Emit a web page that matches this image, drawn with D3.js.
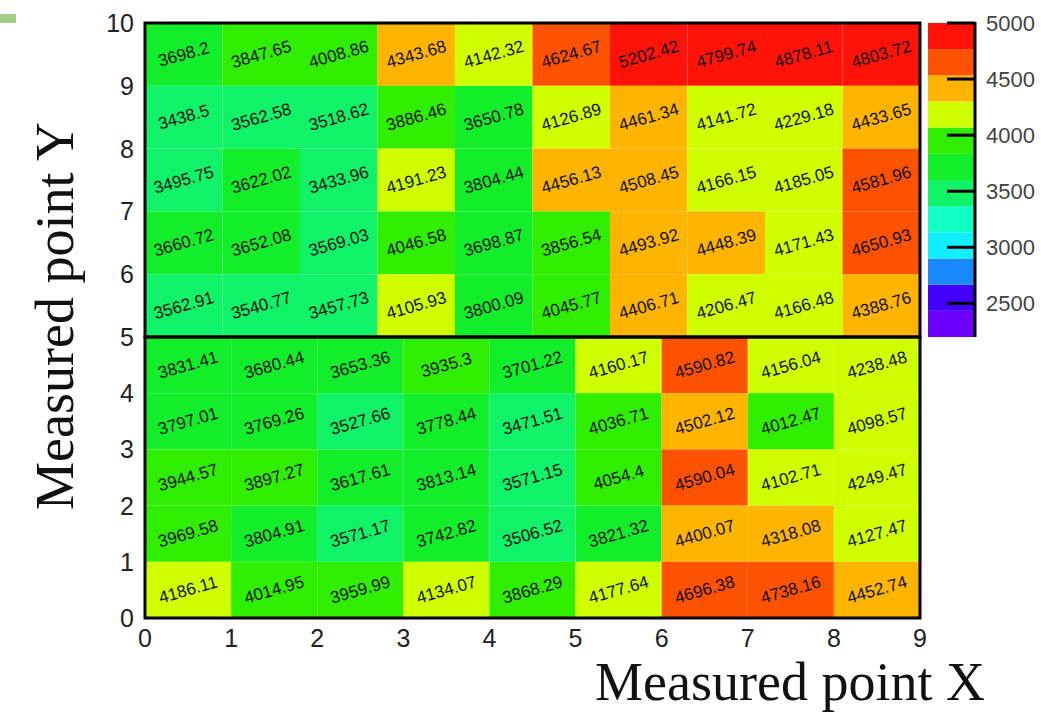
<!DOCTYPE html>
<html>
<head>
<meta charset="utf-8">
<script src="https://cdn.jsdelivr.net/npm/d3@7"></script>
<style>
  body { margin: 0; background: #fff; }
  svg { display: block; }
</style>
</head>
<body>
<div id="chart"></div>
<script>
// upper block: 10 columns, rows listed from y=9..10 down to y=5..6
var topRows = [
  [3698.2, 3847.65, 4008.86, 4343.68, 4142.32, 4624.67, 5202.42, 4799.74, 4878.11, 4803.72],
  [3438.5, 3562.58, 3518.62, 3886.46, 3650.78, 4126.89, 4461.34, 4141.72, 4229.18, 4433.65],
  [3495.75, 3622.02, 3433.96, 4191.23, 3804.44, 4456.13, 4508.45, 4166.15, 4185.05, 4581.96],
  [3660.72, 3652.08, 3569.03, 4046.58, 3698.87, 3856.54, 4493.92, 4448.39, 4171.43, 4650.93],
  [3562.91, 3540.77, 3457.73, 4105.93, 3800.09, 4045.77, 4406.71, 4206.47, 4166.48, 4388.76]
];
// lower block: 9 columns, rows listed from y=4..5 down to y=0..1
var bottomRows = [
  [3831.41, 3680.44, 3653.36, 3935.3, 3701.22, 4160.17, 4590.82, 4156.04, 4238.48],
  [3797.01, 3769.26, 3527.66, 3778.44, 3471.51, 4036.71, 4502.12, 4012.47, 4098.57],
  [3944.57, 3897.27, 3617.61, 3813.14, 3571.15, 4054.4, 4590.04, 4102.71, 4249.47],
  [3969.58, 3804.91, 3571.17, 3742.82, 3506.52, 3821.32, 4400.07, 4318.08, 4127.47],
  [4186.11, 4014.95, 3959.99, 4134.07, 3868.29, 4177.64, 4696.38, 4738.16, 4452.74]
];
var xTicks = [0, 1, 2, 3, 4, 5, 6, 7, 8, 9];
var yTopTicks = [6, 7, 8, 9, 10];
var yBottomTicks = [0, 1, 2, 3, 4, 5];
var zTicks = [2500, 3000, 3500, 4000, 4500, 5000];
var zRange = [2200, 5000];

// 12 colour levels, low to high
var palette = ["#6c00ff", "#4200ff", "#1a88ff", "#10eeff", "#10ffc4", "#10f268",
               "#12ee2a", "#30ee00", "#d0ff00", "#ffb400", "#ff5200", "#ff1208"];

var W = 1041, H = 716;
var svg = d3.select("#chart").append("svg")
    .attr("width", W)
    .attr("height", H);

// set the ranges
var x = d3.scaleLinear().domain([0, 9]).range([145, 920]);
var xTop = d3.scaleBand().domain(d3.range(10)).range([145, 920]);
var yTop = d3.scaleLinear().domain([5, 10]).range([337, 23]);
var yBot = d3.scaleLinear().domain([0, 5]).range([618, 337]);
var color = d3.scaleQuantize().domain(zRange).range(palette);
var zScale = d3.scaleLinear().domain(zRange).range([337, 23]);

// little slide decoration at top-left
svg.append("rect")
    .attr("x", 0).attr("y", 14).attr("width", 16).attr("height", 9)
    .attr("fill", "#a6cc86");

// flatten the tables into cells
var topCells = [];
topRows.forEach(function(row, r) {
  row.forEach(function(v, c) {
    topCells.push({ v: v, c: c, y0: 9 - r, y1: 10 - r });
  });
});
var bottomCells = [];
bottomRows.forEach(function(row, r) {
  row.forEach(function(v, c) {
    bottomCells.push({ v: v, c: c, y0: 4 - r, y1: 5 - r });
  });
});

// upper cells
svg.append("g").selectAll("rect")
    .data(topCells)
  .enter().append("rect")
    .attr("x", function(d) { return xTop(d.c); })
    .attr("y", function(d) { return yTop(d.y1); })
    .attr("width", xTop.bandwidth())
    .attr("height", function(d) { return yTop(d.y0) - yTop(d.y1); })
    .attr("fill", function(d) { return color(d.v); });

// lower cells
svg.append("g").selectAll("rect")
    .data(bottomCells)
  .enter().append("rect")
    .attr("x", function(d) { return x(d.c); })
    .attr("y", function(d) { return yBot(d.y1); })
    .attr("width", function(d) { return x(d.c + 1) - x(d.c); })
    .attr("height", function(d) { return yBot(d.y0) - yBot(d.y1); })
    .attr("fill", function(d) { return color(d.v); });

// cell values, slanted
function addLabels(cells, cx, cy) {
  svg.append("g").selectAll("text")
      .data(cells)
    .enter().append("text")
      .text(function(d) { return d.v; })
      .attr("text-anchor", "middle")
      .attr("dominant-baseline", "central")
      .attr("transform", function(d) {
        return "translate(" + cx(d) + "," + cy(d) + ") rotate(-16)";
      })
      .attr("font-family", "Liberation Sans, Arial, sans-serif")
      .attr("font-size", "17px")
      .attr("fill", "#111");
}
addLabels(topCells,
  function(d) { return xTop(d.c) + xTop.bandwidth() / 2; },
  function(d) { return (yTop(d.y0) + yTop(d.y1)) / 2; });
addLabels(bottomCells,
  function(d) { return (x(d.c) + x(d.c + 1)) / 2; },
  function(d) { return (yBot(d.y0) + yBot(d.y1)) / 2; });

// frames
svg.append("rect")
    .attr("x", x(0)).attr("y", yTop(10))
    .attr("width", x(9) - x(0)).attr("height", yTop(5) - yTop(10))
    .attr("fill", "none").attr("stroke", "#000").attr("stroke-width", 3);
svg.append("rect")
    .attr("x", x(0)).attr("y", yBot(5))
    .attr("width", x(9) - x(0)).attr("height", yBot(0) - yBot(5))
    .attr("fill", "none").attr("stroke", "#000").attr("stroke-width", 3);

// axis tick labels
var tickFont = "Liberation Sans, Arial, sans-serif";
svg.append("g").selectAll("text")
    .data(xTicks)
  .enter().append("text")
    .text(function(d) { return d; })
    .attr("x", function(d) { return x(d); })
    .attr("y", 647)
    .attr("text-anchor", "middle")
    .attr("font-family", tickFont)
    .attr("font-size", "25px")
    .attr("fill", "#222");

svg.append("g").selectAll("text")
    .data(yTopTicks)
  .enter().append("text")
    .text(function(d) { return d; })
    .attr("x", 134)
    .attr("y", function(d) { return yTop(d) + 9; })
    .attr("text-anchor", "end")
    .attr("font-family", tickFont)
    .attr("font-size", "25px")
    .attr("fill", "#222");

svg.append("g").selectAll("text")
    .data(yBottomTicks)
  .enter().append("text")
    .text(function(d) { return d; })
    .attr("x", 134)
    .attr("y", function(d) { return yBot(d) + 9; })
    .attr("text-anchor", "end")
    .attr("font-family", tickFont)
    .attr("font-size", "25px")
    .attr("fill", "#222");

// colour bar
var cbX = 928, cbW = 47;
var levels = d3.range(palette.length);
svg.append("g").selectAll("rect")
    .data(levels)
  .enter().append("rect")
    .attr("x", cbX)
    .attr("y", function(i) { return zScale(color.invertExtent(palette[i])[1]); })
    .attr("width", cbW)
    .attr("height", function(i) {
      var e = color.invertExtent(palette[i]);
      return zScale(e[0]) - zScale(e[1]);
    })
    .attr("fill", function(i) { return palette[i]; });

svg.append("line")
    .attr("x1", cbX + cbW).attr("x2", cbX + cbW)
    .attr("y1", zScale(zRange[0])).attr("y2", zScale(zRange[1]) - 1)
    .attr("stroke", "#000").attr("stroke-width", 3);

svg.append("g").selectAll("line")
    .data(zTicks)
  .enter().append("line")
    .attr("x1", cbX + cbW - 28).attr("x2", cbX + cbW)
    .attr("y1", function(d) { return zScale(d); })
    .attr("y2", function(d) { return zScale(d); })
    .attr("stroke", "#000").attr("stroke-width", 3);

svg.append("g").selectAll("text")
    .data(zTicks)
  .enter().append("text")
    .text(function(d) { return d; })
    .attr("x", 986)
    .attr("y", function(d) { return zScale(d) + 8; })
    .attr("font-family", tickFont)
    .attr("font-size", "22px")
    .attr("fill", "#444");

// axis titles
svg.append("text")
    .text("Measured point X")
    .attr("x", 985)
    .attr("y", 700)
    .attr("text-anchor", "end")
    .attr("font-family", "Liberation Serif, Times New Roman, serif")
    .attr("font-size", "54px")
    .attr("fill", "#111");

svg.append("text")
    .text("Measured point Y")
    .attr("transform", "translate(73,316) rotate(-90)")
    .attr("text-anchor", "middle")
    .attr("font-family", "Liberation Serif, Times New Roman, serif")
    .attr("font-size", "54px")
    .attr("fill", "#111");
</script>
</body>
</html>
